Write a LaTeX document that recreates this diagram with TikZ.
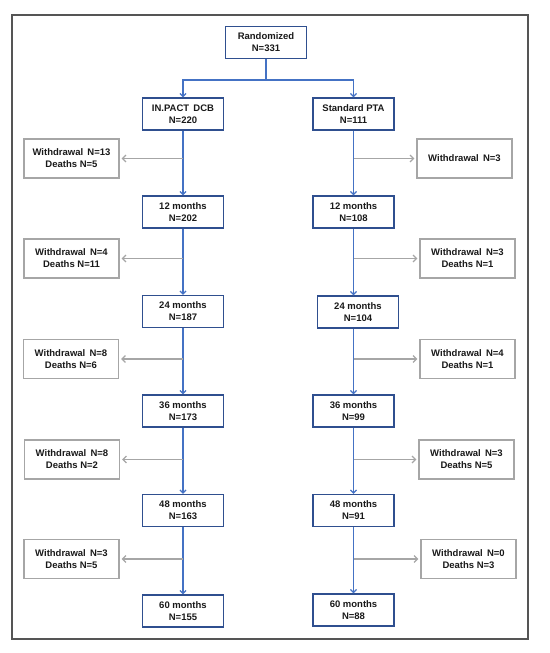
\documentclass[tikz,border=0pt]{standalone}
\usepackage{fontspec}
\setmainfont{Liberation Sans}
\usetikzlibrary{arrows.meta}
\definecolor{boxblue}{HTML}{2F4F8F}
\definecolor{lineblue}{HTML}{4472C4}
\definecolor{boxgray}{HTML}{A6A6A6}
\definecolor{framegray}{HTML}{555555}
\begin{document}
\begin{tikzpicture}[x=1pt,y=-1pt,
  every node/.style={font=\fontsize{9.5}{12}\selectfont\bfseries, text=black!90, align=center, inner sep=0pt},
  bluebox/.style={draw=boxblue, line width=1.4pt, minimum width=81pt, minimum height=32pt},
  graybox/.style={draw=boxgray, line width=1.2pt, minimum width=95pt, minimum height=39pt},
  blueline/.style={draw=lineblue, line width=1.2pt},
  bluearrow/.style={blueline, -{Straight Barb[length=3pt,width=6pt]}},
  grayarrow/.style={draw=boxgray, line width=1.2pt, -{Straight Barb[length=3.5pt,width=7pt]}, shorten >=2pt}
]
\useasboundingbox (0,0) rectangle (549,653);
\draw[framegray, line width=1.5pt] (12,15) rectangle (528,639);

% top
\node[bluebox] (rand) at (266,42.5) {Randomized\\N=331};
\node[bluebox] (l0) at (183,114) {IN.PACT\hspace{0.45em}DCB\\N=220};
\node[bluebox] (r0) at (353.5,114) {Standard PTA\\N=111};

% left column
\node[bluebox] (l12) at (183,212) {12 months\\N=202};
\node[bluebox] (l24) at (183,311.5) {24 months\\N=187};
\node[bluebox] (l36) at (183,411) {36 months\\N=173};
\node[bluebox] (l48) at (183,510.5) {48 months\\N=163};
\node[bluebox] (l60) at (183,611) {60 months\\N=155};

% right column
\node[bluebox] (r12) at (353.5,212) {12 months\\N=108};
\node[bluebox] (r24) at (358,312) {24 months\\N=104};
\node[bluebox] (r36) at (353.5,411) {36 months\\N=99};
\node[bluebox] (r48) at (353.5,510.5) {48 months\\N=91};
\node[bluebox] (r60) at (353.5,610) {60 months\\N=88};

% left withdrawal boxes
\node[graybox] (lw1) at (71.5,158.5) {Withdrawal\hspace{0.45em}N=13\\Deaths N=5};
\node[graybox] (lw2) at (71.5,258.5) {Withdrawal\hspace{0.45em}N=4\\Deaths N=11};
\node[graybox] (lw3) at (71,359) {Withdrawal\hspace{0.45em}N=8\\Deaths N=6};
\node[graybox] (lw4) at (72,459.5) {Withdrawal\hspace{0.45em}N=8\\Deaths N=2};
\node[graybox] (lw5) at (71.5,559) {Withdrawal\hspace{0.45em}N=3\\Deaths N=5};

% right withdrawal boxes
\node[graybox] (rw1) at (464.5,158.5) {Withdrawal\hspace{0.45em}N=3};
\node[graybox] (rw2) at (467.5,258.5) {Withdrawal\hspace{0.45em}N=3\\Deaths N=1};
\node[graybox] (rw3) at (467.5,359) {Withdrawal\hspace{0.45em}N=4\\Deaths N=1};
\node[graybox] (rw4) at (466.5,459.5) {Withdrawal\hspace{0.45em}N=3\\Deaths N=5};
\node[graybox] (rw5) at (468.5,559) {Withdrawal\hspace{0.45em}N=0\\Deaths N=3};

% split
\coordinate (split) at (266,80);
\draw[blueline] (rand.south) -- (split);
\draw[bluearrow] (split) -| (l0.north);
\draw[bluearrow] (split) -| (r0.north);

% left vertical arrows
\draw[bluearrow] (l0.south) -- (l12.north);
\draw[bluearrow] (l12.south) -- (l24.north);
\draw[bluearrow] (l24.south) -- (l36.north);
\draw[bluearrow] (l36.south) -- (l48.north);
\draw[bluearrow] (l48.south) -- (l60.north);

% right vertical arrows
\draw[bluearrow] (r0.south) -- (r12.north);
\draw[bluearrow] (r12.south) -- (r12.south |- r24.north);
\draw[bluearrow] (r36.north |- r24.south) -- (r36.north);
\draw[bluearrow] (r36.south) -- (r48.north);
\draw[bluearrow] (r48.south) -- (r60.north);

% left branch points
\coordinate (lb1) at (l0.south |- lw1.east);
\coordinate (lb2) at (l12.south |- lw2.east);
\coordinate (lb3) at (l24.south |- lw3.east);
\coordinate (lb4) at (l36.south |- lw4.east);
\coordinate (lb5) at (l48.south |- lw5.east);
\draw[grayarrow] (lb1) -- (lw1.east);
\draw[grayarrow] (lb2) -- (lw2.east);
\draw[grayarrow] (lb3) -- (lw3.east);
\draw[grayarrow] (lb4) -- (lw4.east);
\draw[grayarrow] (lb5) -- (lw5.east);

% right branch points
\coordinate (rb1) at (r0.south |- rw1.west);
\coordinate (rb2) at (r12.south |- rw2.west);
\coordinate (rb3) at (r36.north |- rw3.west);
\coordinate (rb4) at (r36.south |- rw4.west);
\coordinate (rb5) at (r48.south |- rw5.west);
\draw[grayarrow] (rb1) -- (rw1.west);
\draw[grayarrow] (rb2) -- (rw2.west);
\draw[grayarrow] (rb3) -- (rw3.west);
\draw[grayarrow] (rb4) -- (rw4.west);
\draw[grayarrow] (rb5) -- (rw5.west);
\end{tikzpicture}
\end{document}
